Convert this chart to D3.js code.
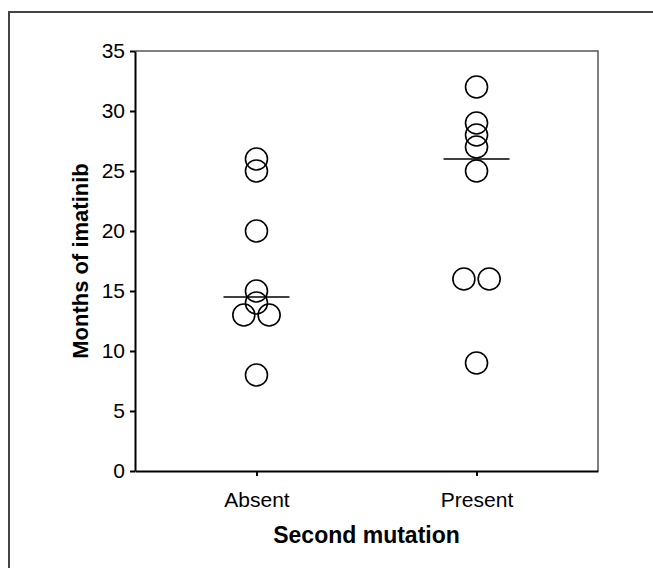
<!DOCTYPE html>
<html>
<head>
<meta charset="utf-8">
<script src="https://cdn.jsdelivr.net/npm/d3@7"></script>
<style>
  body { margin: 0; background: #fff; }
  svg { display: block; font-family: "Liberation Sans", Arial, sans-serif; }
  .axis path, .axis line { stroke: #000; stroke-width: 2; }
  .axis text { font-size: 21px; fill: #000; }
</style>
</head>
<body>
<div id="chart"></div>
<script>
// Months of imatinib per group
const groups = ["Absent", "Present"];
const absentValues = [26, 25, 20, 15, 14, 13, 13, 8];
const presentValues = [32, 29, 28, 27, 25, 16, 16, 9];
const yTicks = [0, 5, 10, 15, 20, 25, 30, 35];

const seriesByGroup = { Absent: absentValues, Present: presentValues };

const W = 653, H = 568;
const margin = { top: 51, right: 55, bottom: 97, left: 135 };
const width = W - margin.left - margin.right;
const height = H - margin.top - margin.bottom;

const svg = d3.select("#chart").append("svg")
    .attr("width", W)
    .attr("height", H);

// outer frame (runs off the right and bottom edges)
svg.append("rect")
    .attr("x", 9).attr("y", 12)
    .attr("width", W + 20).attr("height", H + 20)
    .attr("fill", "none")
    .attr("stroke", "#444")
    .attr("stroke-width", 2);

const g = svg.append("g")
    .attr("transform", `translate(${margin.left},${margin.top})`);

const x = d3.scalePoint()
    .domain(groups)
    .range([0, width])
    .padding(0.552);

const y = d3.scaleLinear()
    .domain([0, 35])
    .range([height, 0]);

// top and right border of the plot box
g.append("path")
    .attr("d", `M0,${y(35)}H${width}V${y(0)}`)
    .attr("fill", "none")
    .attr("stroke", "#555")
    .attr("stroke-width", 1.5);

g.append("g")
    .attr("class", "axis")
    .call(d3.axisLeft(y).tickValues(yTicks).tickSize(5).tickPadding(5).tickSizeOuter(0));

g.append("g")
    .attr("class", "axis")
    .attr("transform", `translate(0,${height})`)
    .call(d3.axisBottom(x).tickSize(5).tickPadding(16).tickSizeOuter(0));

// spread out points that share the same value
const r = 11;
const points = [];
groups.forEach(grp => {
    const vals = seriesByGroup[grp];
    const counts = d3.rollup(vals, v => v.length, v => v);
    const seen = new Map();
    vals.forEach(v => {
        const n = counts.get(v);
        const i = seen.get(v) || 0;
        seen.set(v, i + 1);
        points.push({ group: grp, value: v, offset: (i - (n - 1) / 2) * 2 * r * 1.15 });
    });
});

g.selectAll("circle")
    .data(points)
    .enter()
    .append("circle")
    .attr("cx", d => x(d.group) + d.offset)
    .attr("cy", d => y(d.value))
    .attr("r", r)
    .attr("fill", "none")
    .attr("stroke", "#000")
    .attr("stroke-width", 1.6);

// median lines
g.selectAll(".median")
    .data(groups)
    .enter()
    .append("line")
    .attr("class", "median")
    .attr("x1", d => x(d) - 33)
    .attr("x2", d => x(d) + 33)
    .attr("y1", d => y(d3.median(seriesByGroup[d])))
    .attr("y2", d => y(d3.median(seriesByGroup[d])))
    .attr("stroke", "#000")
    .attr("stroke-width", 1.6);

// axis titles
g.append("text")
    .attr("x", width / 2)
    .attr("y", height + 72)
    .attr("text-anchor", "middle")
    .style("font-size", "23px")
    .style("font-weight", "bold")
    .text("Second mutation");

g.append("text")
    .attr("transform", "rotate(-90)")
    .attr("x", -height / 2)
    .attr("y", -47)
    .attr("text-anchor", "middle")
    .style("font-size", "22px")
    .style("font-weight", "bold")
    .text("Months of imatinib");
</script>
</body>
</html>
